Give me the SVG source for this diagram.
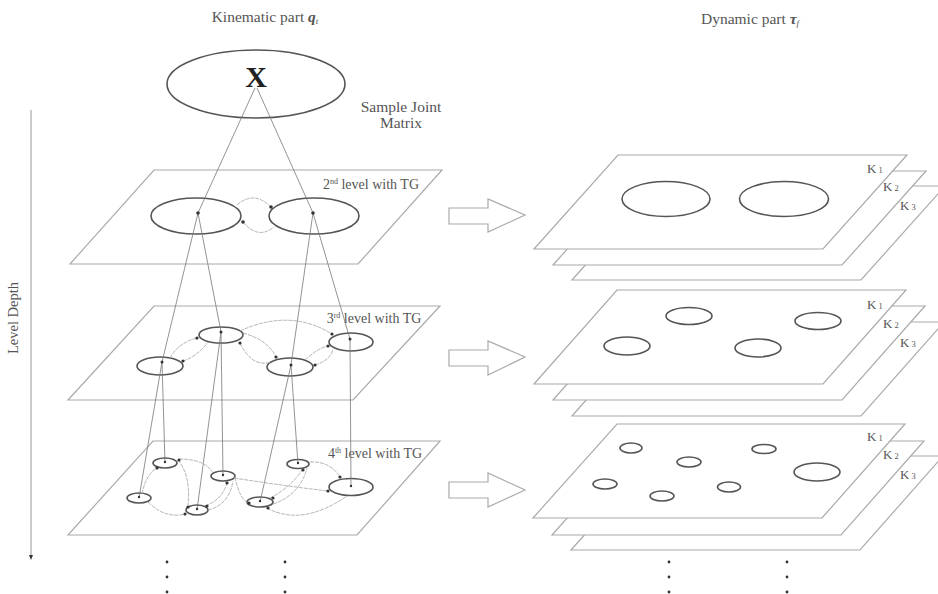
<svg xmlns="http://www.w3.org/2000/svg" width="938" height="594" viewBox="0 0 938 594">
<style>
.t{font-family:"Liberation Serif","Times New Roman",serif;fill:#555}
.plane{fill:#fff;stroke:#aaa;stroke-width:1.2}
.node{fill:none;stroke:#555;stroke-width:1.6}
.link{fill:none;stroke:#777;stroke-width:0.8}
.edge{fill:none;stroke:#aaa;stroke-width:0.9;stroke-dasharray:4 1}
.dot{fill:#333}
.barrow{fill:#fff;stroke:#aaa;stroke-width:1.2}
.vd{fill:#333}
</style>
<rect width="938" height="594" fill="#fff"/>

<!-- titles -->
<text class="t" x="265" y="22" font-size="15.5" text-anchor="middle">Kinematic part <tspan font-weight="bold" font-style="italic">q</tspan><tspan font-size="9" font-style="italic" dy="2">t</tspan></text>
<text class="t" x="750" y="24" font-size="15.5" text-anchor="middle">Dynamic part <tspan font-weight="bold" font-style="italic">τ</tspan><tspan font-size="9" font-style="italic" dy="2">f</tspan></text>
<text class="t" x="401" y="112" font-size="15.5" text-anchor="middle">Sample Joint</text>
<text class="t" x="401" y="128" font-size="15.5" text-anchor="middle">Matrix</text>

<!-- level depth -->
<g id="level-depth">
<line x1="31" y1="110" x2="31" y2="556" stroke="#bbb" stroke-width="1.5"/>
<path d="M29,555 L33,555 L31,560 Z" fill="#333"/>
<text class="t" transform="translate(18,318) rotate(-90)" font-size="14.5" text-anchor="middle">Level Depth</text>
</g>

<!-- top node -->
<g id="node-X">
<ellipse class="node" cx="256" cy="84" rx="89" ry="34"/>
<text x="256" y="87" font-family="'Liberation Serif','Times New Roman',serif" font-size="30" font-weight="bold" fill="#222" text-anchor="middle">X</text>
</g>

<!-- left planes -->
<g id="plane-level2">
<polygon class="plane" points="154,170 442,170 358,264 70,264"/>
<text class="t" x="371" y="189" font-size="14" text-anchor="middle">2<tspan font-size="8" dy="-5">nd</tspan><tspan dy="5"> level with TG</tspan></text>
<ellipse class="node" cx="196" cy="216" rx="45" ry="18"/>
<ellipse class="node" cx="314" cy="216" rx="45" ry="18"/>
</g>
<g id="plane-level3">
<polygon class="plane" points="154,306 440,306 353,400 68,400"/>
<text class="t" x="374" y="323" font-size="14" text-anchor="middle">3<tspan font-size="8" dy="-5">rd</tspan><tspan dy="5"> level with TG</tspan></text>
<ellipse class="node" cx="160" cy="366" rx="23" ry="9"/>
<ellipse class="node" cx="221" cy="335" rx="22" ry="8"/>
<ellipse class="node" cx="290" cy="367" rx="23" ry="9"/>
<ellipse class="node" cx="351" cy="342" rx="22" ry="9"/>
</g>
<g id="plane-level4">
<polygon class="plane" points="153,441 440,441 357,535 68,535"/>
<text class="t" x="375" y="458" font-size="14" text-anchor="middle">4<tspan font-size="8" dy="-5">th</tspan><tspan dy="5"> level with TG</tspan></text>
<ellipse class="node" cx="139" cy="498" rx="12" ry="5"/>
<ellipse class="node" cx="165" cy="463" rx="12" ry="5"/>
<ellipse class="node" cx="197" cy="510" rx="11" ry="5"/>
<ellipse class="node" cx="223" cy="476" rx="12" ry="5"/>
<ellipse class="node" cx="260" cy="502" rx="13" ry="5"/>
<ellipse class="node" cx="298" cy="464" rx="11" ry="4.5"/>
<ellipse class="node" cx="351" cy="487" rx="22" ry="8.5"/>
</g>

<!-- connectors -->
<g id="connectors">
<!-- vertical links -->
<path class="link" d="M255,88 L198,213 M257,88 L313,213"/>
<path class="link" d="M198,213 L162,362 M198,213 L221,332 M313,213 L291,365 M313,213 L350,339"/>
<path class="link" d="M162,362 L139,498 M162,362 L165,463 M221,332 L197,510 M221,332 L223,476 M291,365 L260,502 M291,365 L298,464 M350,339 L351,487"/>
<!-- level 2 edges -->
<path class="edge" d="M237,205 Q254,190 271,207"/>
<path class="edge" d="M243,222 Q258,240 274,227"/>
<!-- level 3 edges -->
<path class="edge" d="M170,358 Q178,343 197,338"/>
<path class="edge" d="M183,361 Q198,356 208,342"/>
<path class="edge" d="M243,333 Q268,340 276,357"/>
<path class="edge" d="M240,343 Q252,368 271,362"/>
<path class="edge" d="M305,360 Q318,348 328,346"/>
<path class="edge" d="M315,365 Q331,360 333,349"/>
<path class="edge" d="M240,331 Q290,308 332,334"/>
<!-- level 4 edges -->
<path class="edge" d="M142,494 Q146,474 157,468"/>
<path class="edge" d="M178,460 Q191,476 188,505"/>
<path class="edge" d="M179,459 Q205,459 213,473"/>
<path class="edge" d="M148,502 Q165,519 185,514"/>
<path class="edge" d="M205,506 Q222,500 227,483"/>
<path class="edge" d="M208,510 Q229,505 233,481"/>
<path class="edge" d="M234,478 Q285,486 328,491"/>
<path class="edge" d="M235,477 Q240,501 249,503"/>
<path class="edge" d="M270,498 Q290,488 302,470"/>
<path class="edge" d="M273,504 Q300,495 307,468"/>
<path class="edge" d="M310,462 Q330,461 340,477"/>
<path class="edge" d="M267,508 Q302,527 347,496"/>
<!-- arrow dots -->
<g class="dot">
<circle cx="198" cy="213" r="1.8"/><circle cx="313" cy="213" r="1.8"/>
<circle cx="243" cy="222" r="1.8"/><circle cx="271" cy="207" r="1.8"/>
<circle cx="162" cy="362" r="1.5"/><circle cx="221" cy="332" r="1.5"/><circle cx="291" cy="365" r="1.5"/><circle cx="350" cy="339" r="1.5"/>
<circle cx="197" cy="338" r="1.6"/><circle cx="183" cy="361" r="1.6"/><circle cx="240" cy="343" r="1.6"/><circle cx="276" cy="357" r="1.6"/>
<circle cx="315" cy="365" r="1.6"/><circle cx="328" cy="346" r="1.6"/><circle cx="332" cy="334" r="1.6"/>
<circle cx="139" cy="497" r="1.2"/><circle cx="165" cy="462" r="1.2"/><circle cx="197" cy="509" r="1.2"/><circle cx="223" cy="475" r="1.2"/><circle cx="260" cy="501" r="1.2"/><circle cx="298" cy="463" r="1.2"/><circle cx="351" cy="486" r="1.2"/>
<circle cx="157" cy="468" r="1.6"/><circle cx="179" cy="460" r="1.6"/><circle cx="185" cy="514" r="1.6"/><circle cx="188" cy="507" r="1.6"/><circle cx="207" cy="506" r="1.6"/>
<circle cx="227" cy="483" r="1.6"/><circle cx="249" cy="503" r="1.6"/><circle cx="273" cy="498" r="1.6"/><circle cx="268" cy="508" r="1.6"/>
<circle cx="303" cy="470" r="1.6"/><circle cx="340" cy="477" r="1.6"/><circle cx="328" cy="491" r="1.6"/>
</g>
</g>

<!-- block arrows -->
<g id="arrow-1"><path class="barrow" d="M449,208 L488,208 L488,199 L525,215 L488,232 L488,224 L449,224 Z"/></g>
<g id="arrow-2"><path class="barrow" d="M449,350 L488,350 L488,341 L525,357 L488,375 L488,366 L449,366 Z"/></g>
<g id="arrow-3"><path class="barrow" d="M449,482 L488,482 L488,473 L525,490 L488,507 L488,498 L449,498 Z"/></g>

<!-- right stacks -->
<g id="stack-level2">
<polygon class="plane" points="656,186 945,186 861,280 572,280"/>
<polygon class="plane" points="637,171 926,171 842,265 553,265"/>
<polygon class="plane" points="618,155 907,155 823,249 534,249"/>
<text class="t" x="867" y="173" font-size="13">K<tspan font-size="8.5" dx="2">1</tspan></text>
<text class="t" x="883" y="191" font-size="13">K<tspan font-size="8.5" dx="2">2</tspan></text>
<text class="t" x="900" y="210" font-size="13">K<tspan font-size="8.5" dx="2">3</tspan></text>
<ellipse class="node" cx="666" cy="199" rx="44" ry="17.5"/>
<ellipse class="node" cx="784" cy="199" rx="44.5" ry="17.5"/>
</g>
<g id="stack-level3">
<polygon class="plane" points="655,322 944,322 861,416 572,416"/>
<polygon class="plane" points="636,306 925,306 842,400 553,400"/>
<polygon class="plane" points="617,290 906,290 823,384 534,384"/>
<text class="t" x="867" y="309" font-size="13">K<tspan font-size="8.5" dx="2">1</tspan></text>
<text class="t" x="883" y="328" font-size="13">K<tspan font-size="8.5" dx="2">2</tspan></text>
<text class="t" x="900" y="347" font-size="13">K<tspan font-size="8.5" dx="2">3</tspan></text>
<ellipse class="node" cx="689" cy="316" rx="23" ry="8.5"/>
<ellipse class="node" cx="627" cy="346" rx="23" ry="9"/>
<ellipse class="node" cx="758" cy="348" rx="23" ry="9"/>
<ellipse class="node" cx="818" cy="321" rx="23" ry="8.5"/>
</g>
<g id="stack-level4">
<polygon class="plane" points="655,456 943,456 860,550 571,550"/>
<polygon class="plane" points="636,441 924,441 841,535 552,535"/>
<polygon class="plane" points="617,424 905,424 822,518 533,518"/>
<text class="t" x="867" y="441" font-size="13">K<tspan font-size="8.5" dx="2">1</tspan></text>
<text class="t" x="883" y="459" font-size="13">K<tspan font-size="8.5" dx="2">2</tspan></text>
<text class="t" x="900" y="479" font-size="13">K<tspan font-size="8.5" dx="2">3</tspan></text>
<ellipse class="node" cx="631" cy="448" rx="11" ry="5"/>
<ellipse class="node" cx="689" cy="462" rx="12" ry="5"/>
<ellipse class="node" cx="764" cy="449" rx="12" ry="4.5"/>
<ellipse class="node" cx="817" cy="472" rx="23" ry="9"/>
<ellipse class="node" cx="605" cy="484" rx="12" ry="5"/>
<ellipse class="node" cx="662" cy="496" rx="12" ry="5"/>
<ellipse class="node" cx="729" cy="487" rx="11.5" ry="5"/>
</g>

<!-- continuation dots -->
<g id="continuation" class="vd">
<circle cx="167" cy="562" r="1.4"/><circle cx="167" cy="577" r="1.4"/><circle cx="167" cy="592" r="1.4"/>
<circle cx="285" cy="562" r="1.4"/><circle cx="285" cy="577" r="1.4"/><circle cx="285" cy="592" r="1.4"/>
<circle cx="669" cy="562" r="1.4"/><circle cx="669" cy="577" r="1.4"/><circle cx="669" cy="592" r="1.4"/>
<circle cx="787" cy="562" r="1.4"/><circle cx="787" cy="577" r="1.4"/><circle cx="787" cy="592" r="1.4"/>
</g>
</svg>
